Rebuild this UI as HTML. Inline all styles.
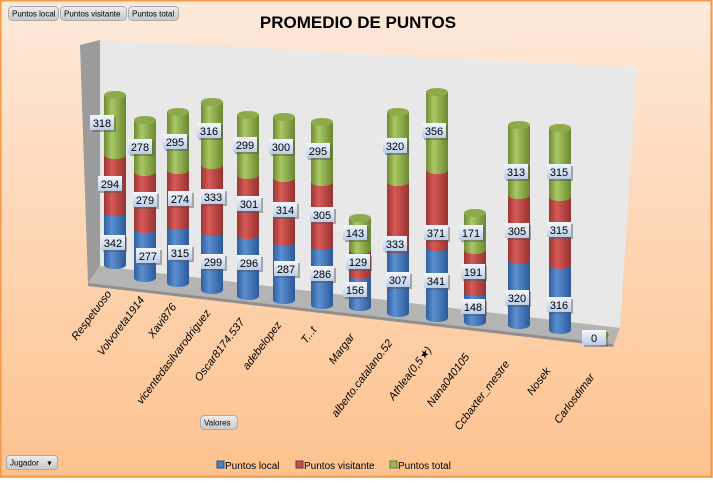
<!DOCTYPE html>
<html><head><meta charset="utf-8"><style>
html,body{margin:0;padding:0;}
body{width:713px;height:478px;overflow:hidden;font-family:"Liberation Sans",sans-serif;}
</style></head><body>
<svg width="713" height="478" viewBox="0 0 713 478" xmlns="http://www.w3.org/2000/svg" font-family="Liberation Sans, sans-serif">
<defs>
<linearGradient id="bg" x1="0" y1="0" x2="0" y2="1"><stop offset="0" stop-color="#fde9da"/><stop offset="1" stop-color="#fdc28e"/></linearGradient>
<linearGradient id="gb" x1="0" x2="1"><stop offset="0" stop-color="#2f5e9c"/><stop offset="0.35" stop-color="#5b8fd2"/><stop offset="1" stop-color="#2c5a98"/></linearGradient>
<linearGradient id="gr" x1="0" x2="1"><stop offset="0" stop-color="#9c3532"/><stop offset="0.35" stop-color="#d65a57"/><stop offset="1" stop-color="#973230"/></linearGradient>
<linearGradient id="gg" x1="0" x2="1"><stop offset="0" stop-color="#6e8a33"/><stop offset="0.35" stop-color="#a9c864"/><stop offset="1" stop-color="#6b8731"/></linearGradient>
<linearGradient id="lb" x1="0" y1="0" x2="0" y2="1"><stop offset="0" stop-color="#f4f7fc"/><stop offset="1" stop-color="#b9cdea"/></linearGradient>
<linearGradient id="btn" x1="0" y1="0" x2="0" y2="1"><stop offset="0" stop-color="#eeeeee"/><stop offset="1" stop-color="#c8c8c8"/></linearGradient>
</defs>
<rect x="0" y="0" width="713" height="478" fill="url(#bg)"/>
<rect x="0.5" y="0.5" width="711" height="476" fill="none" stroke="#f39a4a" stroke-width="2"/>
<polygon points="80,45 100,40 100,266 88,283" fill="#9c9c9c"/>
<polygon points="100,40 637,68 620,328 100,266" fill="#e8e8e8"/>
<polygon points="100,266 620,328 614,344 88,283" fill="#b4b4b4"/>
<polygon points="88,283 614,344 613,347 88,286" fill="#8f8f8f"/>
<g id="bars"></g>
<ellipse cx="600" cy="335" rx="9" ry="4" fill="#7fa23d"/>
<g id="labels" font-size="11" text-anchor="middle" fill="#000"></g>
<text x="358" y="28" font-size="17" font-weight="bold" text-anchor="middle">PROMEDIO DE PUNTOS</text>
<g font-size="8" fill="#000">
<rect x="8.5" y="6.5" width="50" height="14" rx="4" fill="url(#btn)" stroke="#aaa"/><text x="12" y="16.5">Puntos local</text>
<rect x="60.5" y="6.5" width="66" height="14" rx="4" fill="url(#btn)" stroke="#aaa"/><text x="64" y="16.5">Puntos visitante</text>
<rect x="128.5" y="6.5" width="50" height="14" rx="4" fill="url(#btn)" stroke="#aaa"/><text x="132" y="16.5">Puntos total</text>
<rect x="200.5" y="415.5" width="37" height="14" rx="4" fill="url(#btn)" stroke="#aaa"/><text x="204" y="425.5">Valores</text>
<rect x="6.5" y="455.5" width="51" height="14" rx="3" fill="url(#btn)" stroke="#aaa"/><text x="10" y="465.5">Jugador</text><text x="46" y="465.5" font-size="7">▼</text>
</g>
<g font-size="10" fill="#000">
<rect x="217" y="461" width="7" height="7" fill="#4f81bd" stroke="#2c4d75"/><text x="225" y="469">Puntos local</text>
<rect x="296" y="461" width="7" height="7" fill="#c0504d" stroke="#7a2f2d"/><text x="304" y="469">Puntos visitante</text>
<rect x="390" y="461" width="7" height="7" fill="#9bbb59" stroke="#5f7a2e"/><text x="398" y="469">Puntos total</text>
</g>
<g font-size="11" font-style="italic" text-anchor="end" fill="#000">
<text transform="translate(112,294) rotate(-53)">Respetuoso</text>
<text transform="translate(145,300) rotate(-53)">Volvoreta1914</text>
<text transform="translate(177,307) rotate(-53)">Xavi876</text>
<text transform="translate(211,313) rotate(-53)">vicentedasilvarodriguez</text>
<text transform="translate(245,322) rotate(-53)">Oscar8174.537</text>
<text transform="translate(282,325) rotate(-53)">adebelopez</text>
<text transform="translate(317,330) rotate(-53)">T...t</text>
<text transform="translate(355,337) rotate(-53)">Margar</text>
<text transform="translate(393,343) rotate(-53)">alberto.catalano.52</text>
<text transform="translate(432,350) rotate(-53)">Athlea(0,5★)</text>
<text transform="translate(470,357) rotate(-53)">Nana040105</text>
<text transform="translate(510,364) rotate(-53)">Ccbaxter_mestre</text>
<text transform="translate(551,371) rotate(-53)">Nosek</text>
<text transform="translate(595,377) rotate(-53)">Carlosdimar</text>
</g>
<g id="lbl" font-size="11" text-anchor="middle" fill="#000">
<text x="102" y="127">318</text><text x="110" y="188">294</text><text x="113" y="247">342</text>
<text x="140" y="151">278</text><text x="145" y="204">279</text><text x="148" y="260">277</text>
<text x="175" y="146">295</text><text x="180" y="203">274</text><text x="180" y="257">315</text>
<text x="209" y="135">316</text><text x="213" y="201">333</text><text x="213" y="266">299</text>
<text x="245" y="149">299</text><text x="249" y="208">301</text><text x="249" y="267">296</text>
<text x="281" y="151">300</text><text x="285" y="214">314</text><text x="286" y="273">287</text>
<text x="318" y="155">295</text><text x="322" y="219">305</text><text x="322" y="278">286</text>
<text x="355" y="237">143</text><text x="358" y="266">129</text><text x="355" y="294">156</text>
<text x="395" y="150">320</text><text x="395" y="248">333</text><text x="398" y="284">307</text>
<text x="434" y="135">356</text><text x="436" y="237">371</text><text x="436" y="285">341</text>
<text x="471" y="237">171</text><text x="473" y="276">191</text><text x="473" y="311">148</text>
<text x="516" y="176">313</text><text x="517" y="235">305</text><text x="517" y="302">320</text>
<text x="559" y="176">315</text><text x="559" y="234">315</text><text x="559" y="309">316</text>
<text x="594" y="342">0</text>
</g>
</svg>
<script>
var NS="http://www.w3.org/2000/svg";
function el(p,t,a){var e=document.createElementNS(NS,t);for(var k in a)e.setAttribute(k,a[k]);p.appendChild(e);return e;}
var B=[[115,95,155,212,265],[145,120,172,229,278],[178,112,170,226,283],[212,102,165,232,290],[248,115,175,235,296],[284,117,178,242,300],[322,122,182,246,305],[360,218,250,275,307],[398,112,182,250,313],[437,92,170,247,318],[475,213,250,292,322],[519,125,195,260,325],[560,128,197,265,330]];
var g=document.getElementById("bars"),w=11,ry=4;
B.forEach(function(b){var c=b[0];
 var segs=[[b[3],b[4],"url(#gb)"],[b[2],b[3],"url(#gr)"],[b[1],b[2],"url(#gg)"]];
 segs.forEach(function(s){el(g,"rect",{x:c-w,y:s[0],width:2*w,height:s[1]-s[0],fill:s[2]});el(g,"ellipse",{cx:c,cy:s[1],rx:w,ry:ry,fill:s[2]});});
 el(g,"ellipse",{cx:c,cy:b[1],rx:w,ry:ry,fill:"#8dab4b"});
});
var L=document.getElementById("lbl"),lg=document.getElementById("labels");
Array.prototype.forEach.call(L.querySelectorAll("text"),function(t){var x=+t.getAttribute("x"),y=+t.getAttribute("y");
 el(lg,"rect",{x:x-10,y:y-10,width:24,height:15,fill:"#555",opacity:0.45});
 el(lg,"rect",{x:x-12,y:y-12,width:24,height:15,fill:"url(#lb)"});});
</script>
</body></html>
